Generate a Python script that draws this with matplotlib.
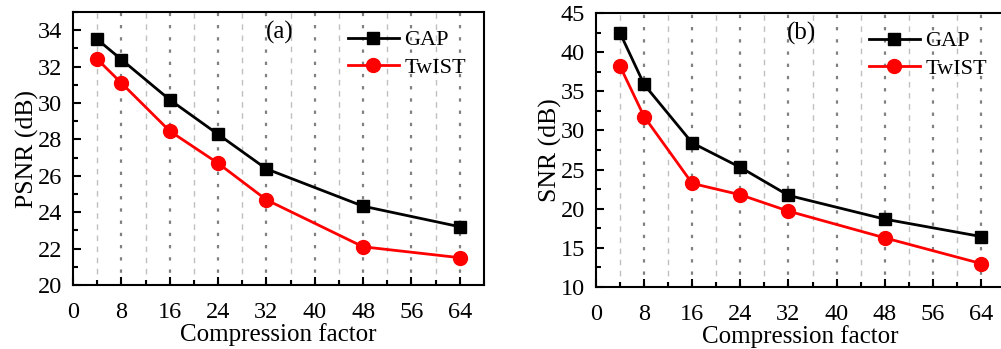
import numpy as np
import matplotlib
matplotlib.use("Agg")
import matplotlib.pyplot as plt
from matplotlib.ticker import MultipleLocator

plt.rcParams['font.family'] = ['Liberation Serif', 'DejaVu Serif']

cf = [4, 8, 16, 24, 32, 48, 64]
psnr_gap = [33.5, 32.39, 30.18, 28.28, 26.38, 24.33, 23.2]
psnr_twist = [32.41, 31.1, 28.46, 26.69, 24.68, 22.1, 21.5]
snr_gap = [42.44, 35.87, 28.4, 25.28, 21.7, 18.67, 16.45]
snr_twist = [38.2, 31.77, 23.23, 21.78, 19.69, 16.28, 13.0]

fig = plt.figure(figsize=(10.01, 3.49), dpi=100)
ax1 = fig.add_axes([73/1001, (349-285)/349, (484-73)/1001, (285-12)/349])
ax2 = fig.add_axes([596/1001, (349-287)/349, (1005-596)/1001, (287-13)/349])

def style(ax, y, ylim, ystep, ylabel, tag):
    gap, twist = y
    ax.set_xlim(0, 68)
    ax.set_ylim(*ylim)
    ax.xaxis.set_major_locator(MultipleLocator(8))
    ax.xaxis.set_minor_locator(MultipleLocator(4))
    ax.yaxis.set_major_locator(MultipleLocator(ystep))
    ax.yaxis.set_minor_locator(MultipleLocator(ystep / 2))
    # dotted lines on major x ticks, dashed on minor ones
    for xv in np.arange(8, 68, 8):
        ax.axvline(xv, color='#808080', ls=(0, (1.5, 4)), lw=1.6, zorder=0)
    for xv in np.arange(4, 68, 8):
        ax.axvline(xv, color='#c0c0c0', ls=(0, (4, 4)), lw=1.0, zorder=0)
    ax.plot(cf, gap, color='black', lw=2, marker='s', ms=9, label='GAP')
    ax.plot(cf, twist, color='red', lw=2, marker='o', ms=10, label='TwIST')
    ax.tick_params(axis='both', which='both', direction='in', top=False, right=False,
                   labelsize=17.5)
    ax.tick_params(axis='y', which='major', pad=8)
    ax.tick_params(axis='x', which='major', pad=12)
    ax.tick_params(which='major', length=6, width=1.5)
    ax.tick_params(which='minor', length=3.5, width=1.5)
    for s in ax.spines.values():
        s.set_linewidth(1.5)
    ax.set_xlabel('Compression factor', fontsize=18, labelpad=0)
    ax.set_ylabel(ylabel, fontsize=18.5, labelpad=-1)
    ax.text(0.503, 0.925, tag, transform=ax.transAxes, fontsize=18, ha='center', va='center')
    ax.legend(loc='upper right', frameon=False, fontsize=16, handlelength=2.3,
              handletextpad=0.25, borderaxespad=0.4, labelspacing=0.3)

style(ax1, (psnr_gap, psnr_twist), (20, 35), 2, 'PSNR (dB)', '(a)')
style(ax2, (snr_gap, snr_twist), (10, 45), 5, 'SNR (dB)', '(b)')
ax1.set_yticks(np.arange(20, 35, 2))
ax2.set_yticks(np.arange(10, 46, 5))

fig.savefig('out.png', dpi=100)
